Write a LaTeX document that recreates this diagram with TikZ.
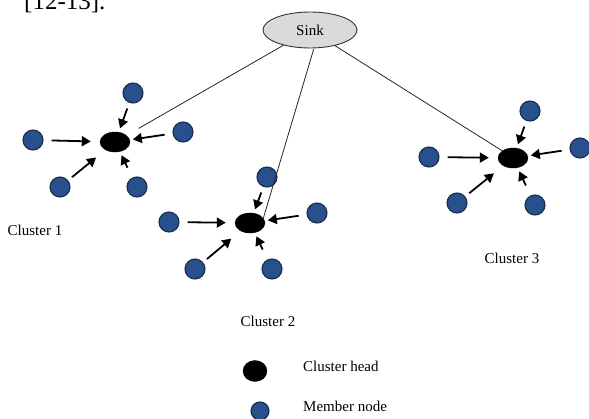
\documentclass[tikz,border=0pt]{standalone}
\usepackage{fontspec}
\setmainfont{Liberation Serif}
\usetikzlibrary{arrows.meta,shapes.geometric}
\definecolor{memberfill}{HTML}{27508C}
\definecolor{memberline}{HTML}{1A2D4C}
\definecolor{sinkfill}{HTML}{DADADA}
\begin{document}
\begin{tikzpicture}[x=1pt,y=-1pt,
  member/.style={circle,fill=memberfill,draw=memberline,line width=1.1pt,minimum size=20pt,inner sep=0pt},
  head/.style={ellipse,fill=black,draw=black,minimum width=30pt,minimum height=20pt,inner sep=0pt},
  sink/.style={ellipse,fill=sinkfill,draw=black!80,line width=0.9pt,minimum width=94pt,minimum height=36pt,inner sep=0pt,font=\fontsize{15}{17}\selectfont},
  feed/.style={line width=1.8pt,-{Triangle[length=9pt,width=10pt]}},
  fL/.style={feed,shorten <=8pt,shorten >=9pt},
  fT/.style={feed,shorten <=6pt,shorten >=4pt},
  fR/.style={feed,shorten <=8pt,shorten >=3pt},
  fBL/.style={feed,shorten <=5pt,shorten >=12pt},
  fBR/.style={feed,shorten <=11pt,shorten >=4pt},
  link/.style={line width=0.8pt,draw=black!85},
  lbl/.style={font=\fontsize{15}{17}\selectfont,inner sep=0pt}]
\clip (0,0) rectangle (589,418);
\fill[white] (0,0) rectangle (589,418);
% cropped text at the top
\node[anchor=base west,inner sep=0pt,font=\fontsize{25}{28}\selectfont] (cite) at (24,9) {[12-13].};
% sink
\node[sink] (sink) at (310,30) {Sink};
% cluster heads
\node[head] (h1) at (115,142) {};
\node[head] (h2) at (250,223) {};
\node[head] (h3) at (513,158) {};
% cluster 1 members
\node[member] (a1) at (133,93) {};
\node[member] (a2) at (33,140) {};
\node[member] (a3) at (183,132) {};
\node[member] (a4) at (60,187) {};
\node[member] (a5) at (137,187) {};
% cluster 2 members
\node[member] (b1) at (267,177) {};
\node[member] (b2) at (169,222) {};
\node[member] (b3) at (317,213) {};
\node[member] (b4) at (195,269) {};
\node[member] (b5) at (272,269) {};
% cluster 3 members
\node[member] (c1) at (530,111) {};
\node[member] (c2) at (429,157) {};
\node[member] (c3) at (580,148) {};
\node[member] (c4) at (457,203) {};
\node[member] (c5) at (535,205) {};
% links to sink
\draw[link,shorten >=14pt] (sink) -- (h1);
\draw[link,shorten <=1pt] (sink.-78) -- (h2.20);
\draw[link] (sink) -- (h3.north west);
% arrows cluster 1
\draw[fT] (a1) -- (h1);
\draw[fL] (a2) -- (h1);
\draw[fR] (a3) -- (h1);
\draw[fBL] (a4) -- (h1);
\draw[fBR] (a5) -- (h1);
% arrows cluster 2
\draw[fT] (b1) -- (h2);
\draw[fL] (b2) -- (h2);
\draw[fR] (b3) -- (h2);
\draw[fBL] (b4) -- (h2);
\draw[fBR] (b5) -- (h2);
% arrows cluster 3
\draw[fT] (c1) -- (h3);
\draw[fL] (c2) -- (h3);
\draw[fR] (c3) -- (h3);
\draw[fBL] (c4) -- (h3);
\draw[fBR] (c5) -- (h3);
% cluster labels
\node[lbl] (l1) at (35,230) {Cluster 1};
\node[lbl] (l2) at (268,321) {Cluster 2};
\node[lbl] (l3) at (512,258) {Cluster 3};
% legend
\node[head,minimum width=24pt,minimum height=21pt] (lh) at (255,371) {};
\node[lbl,anchor=west] (lht) at (303,366) {Cluster head};
\node[member,minimum size=18pt] (lm) at (260,411) {};
\node[lbl,anchor=west] (lmt) at (303,406) {Member node};
\end{tikzpicture}
\end{document}
